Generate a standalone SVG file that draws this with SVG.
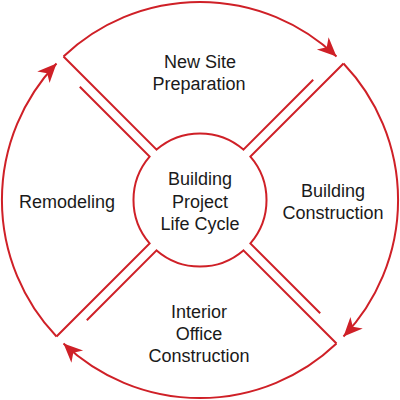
<svg xmlns="http://www.w3.org/2000/svg" width="400" height="400" viewBox="0 0 400 400">
  <style>
    .edge { fill: none; stroke: #cf2027; stroke-width: 2; }
    .node { fill: none; stroke: #cf2027; stroke-width: 2; stroke-linejoin: miter; }
    .label { font-family: "Liberation Sans", Arial, sans-serif; font-size: 18px; fill: #1a1a1a; text-anchor: middle; }
  </style>
  <defs>
    <marker id="arrow" markerUnits="userSpaceOnUse" viewBox="-21 -10 23 20" markerWidth="23" markerHeight="20" refX="0" refY="0" orient="auto">
      <path d="M0,0 L-19,-8.5 L-13.5,0 L-19,8.5 Z" fill="#cf2027"/>
    </marker>
  </defs>
  <rect width="400" height="400" fill="#ffffff"/>

  <g id="connectors">
    <path class="edge" d="M63.5,56.5 A198,198 0 0 1 336.5,56.5" marker-end="url(#arrow)"/>
    <path class="edge" d="M343.5,63.5 A198,198 0 0 1 343.5,336.5" marker-end="url(#arrow)"/>
    <path class="edge" d="M336.5,343.5 A198,198 0 0 1 63.5,343.5" marker-end="url(#arrow)"/>
    <path class="edge" d="M56.5,336.5 A198,198 0 0 1 56.5,63.5" marker-end="url(#arrow)"/>
  </g>

  <g id="new-site-preparation">
    <path class="node" d="M63.5,56.5 L156.6,149.6 A66.5,66.5 0 0 1 243.4,149.6 L313.2,79.8"/>
    <text class="label" x="200" y="67.5">New Site</text>
    <text class="label" x="199" y="90">Preparation</text>
  </g>

  <g id="building-construction">
    <path class="node" d="M343.5,63.5 L250.4,156.6 A66.5,66.5 0 0 1 250.4,243.4 L320.2,313.2"/>
    <text class="label" x="333" y="196.5">Building</text>
    <text class="label" x="333" y="218.5">Construction</text>
  </g>

  <g id="interior-office-construction">
    <path class="node" d="M336.5,343.5 L243.4,250.4 A66.5,66.5 0 0 1 156.6,250.4 L86.8,320.2"/>
    <text class="label" x="199" y="317.5">Interior</text>
    <text class="label" x="199" y="339.5">Office</text>
    <text class="label" x="199" y="362">Construction</text>
  </g>

  <g id="remodeling">
    <path class="node" d="M56.5,336.5 L149.6,243.4 A66.5,66.5 0 0 1 149.6,156.6 L79.8,86.8"/>
    <text class="label" x="67" y="207.5">Remodeling</text>
  </g>

  <g id="building-project-life-cycle">
    <text class="label" x="200" y="185">Building</text>
    <text class="label" x="200" y="207.5">Project</text>
    <text class="label" x="200" y="230">Life Cycle</text>
  </g>
</svg>
